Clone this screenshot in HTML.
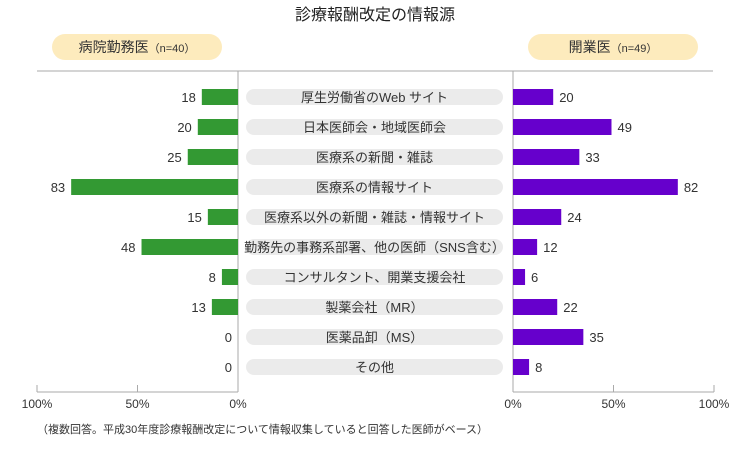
<!DOCTYPE html>
<html><head><meta charset="utf-8">
<style>
html,body{margin:0;padding:0;background:#fff;}
body{width:750px;height:445px;overflow:hidden;font-family:"Liberation Sans","Noto Sans CJK JP",sans-serif;}
svg text{font-family:"Liberation Sans","Noto Sans CJK JP",sans-serif;}
</style></head><body>
<svg id="chart" width="750" height="445" xmlns="http://www.w3.org/2000/svg">
<text x="375" y="20" text-anchor="middle" font-size="16" fill="#222">診療報酬改定の情報源</text>
<rect x="52" y="34" width="170" height="26" rx="13" fill="#fdebbd"/>
<text x="137" y="52" text-anchor="middle" font-size="14" fill="#333">病院勤務医<tspan font-size="11">（n=40）</tspan></text>
<rect x="528" y="34" width="170" height="26" rx="13" fill="#fdebbd"/>
<text x="613" y="52" text-anchor="middle" font-size="14" fill="#333">開業医<tspan font-size="11">（n=49）</tspan></text>
<line x1="37" y1="71" x2="713" y2="71" stroke="#aaa" stroke-width="1"/>
<g id="marks"></g>
<text x="37" y="433" font-size="11" fill="#333">（複数回答。平成30年度診療報酬改定について情報収集していると回答した医師がベース）</text>
</svg>
<script>
const categories=["厚生労働省のWeb サイト","日本医師会・地域医師会","医療系の新聞・雑誌","医療系の情報サイト","医療系以外の新聞・雑誌・情報サイト","勤務先の事務系部署、他の医師（SNS含む）","コンサルタント、開業支援会社","製薬会社（MR）","医薬品卸（MS）","その他"];
const hospitalValues=[18,20,25,83,15,48,8,13,0,0];
const clinicValues=[20,49,33,82,24,12,6,22,35,8];
const tickValues=[0,50,100];
const tickLabels=["0%","50%","100%"];

const NS="http://www.w3.org/2000/svg";
const g=document.getElementById('marks');
const L0=238,R0=513,SC=2.01,ROW0=97,ROWH=30,BARH=16,AXY=392;
const xL=v=>L0-v*SC, xR=v=>R0+v*SC, yRow=i=>ROW0+i*ROWH;
function mk(tag,attrs){const e=document.createElementNS(NS,tag);for(const k in attrs)e.setAttribute(k,attrs[k]);g.appendChild(e);return e;}

let e;
e=mk('line',{x1:L0,y1:71,x2:L0,y2:AXY,stroke:'#aaa'});


e=mk('line',{x1:R0,y1:71,x2:R0,y2:AXY,stroke:'#aaa'});


e=mk('line',{x1:xL(100),y1:AXY,x2:L0,y2:AXY,stroke:'#aaa'});


e=mk('line',{x1:R0,y1:AXY,x2:xR(100),y2:AXY,stroke:'#aaa'});



tickValues.forEach((t,i)=>{
  [[xL(t),'left'],[xR(t),'right']].forEach(([x,s])=>{
    e=mk('line',{x1:x,y1:AXY-7,x2:x,y2:AXY,stroke:'#aaa'});
    
    
    e=mk('text',{x:x,y:408,'text-anchor':'middle','font-size':'12',fill:'#333'});
    e.textContent=tickLabels[i];
    
    
  });
});

categories.forEach((c,i)=>{
  const y=yRow(i);
  e=mk('rect',{x:246,y:y-8,width:257,height:16,rx:8,fill:'#ebebeb'});
  
  
  e=mk('text',{x:374.5,y:y+5,'text-anchor':'middle','font-size':'13',fill:'#333'});
  e.textContent=c;
  
  

  const hv=hospitalValues[i];
  e=mk('rect',{x:xL(hv),y:y-BARH/2,width:hv*SC,height:BARH,fill:'#339933'});
  
  
  e=mk('text',{x:xL(hv)-6,y:y+5,'text-anchor':'end','font-size':'13',fill:'#333'});
  e.textContent=hv;
  
  

  const cv=clinicValues[i];
  e=mk('rect',{x:R0,y:y-BARH/2,width:cv*SC,height:BARH,fill:'#6600cc'});
  
  
  e=mk('text',{x:xR(cv)+6,y:y+5,'text-anchor':'start','font-size':'13',fill:'#333'});
  e.textContent=cv;
  
  
});
</script>
</body></html>
